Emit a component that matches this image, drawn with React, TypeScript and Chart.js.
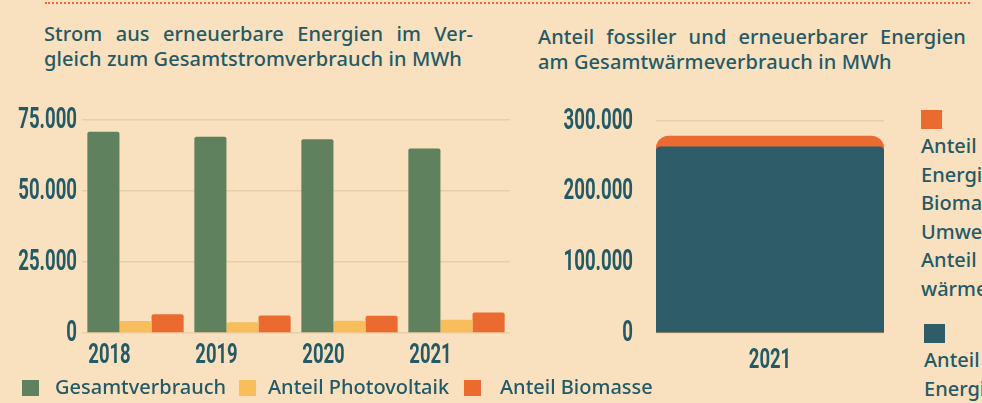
import React, { useEffect, useRef } from "react";
import { Chart, registerables } from "chart.js";

Chart.register(...registerables);

// ---- data ----
const years = ["2018", "2019", "2020", "2021"];
const gesamtverbrauch = [70900, 69100, 68200, 65000];
const photovoltaik = [4200, 3800, 4300, 4700];
const biomasse = [6600, 6200, 6100, 7200];
const stromTicks = [0, 25000, 50000, 75000];

const waermeYears = ["2021"];
const fossil = [263600];
const erneuerbar = [15200];
const waermeTicks = [0, 100000, 200000, 300000];

const stromLegend = ["Gesamtverbrauch", "Anteil Photovoltaik", "Anteil Biomasse"];
const waermeLegendErneuerbar = [
  "Anteil erneuerbarer",
  "Energien wie",
  "Biomasse und",
  "Umweltwärme am",
  "Anteil Gesamt-",
  "wärmeverbrauch",
];
const waermeLegendFossil = ["Anteil fossiler", "Energien am Gesamt-"];

const titleStrom = ["Strom aus erneuerbare Energien im Ver-", "gleich zum Gesamtstromverbrauch in MWh"];
const titleWaerme = ["Anteil fossiler und erneuerbarer Energien", "am Gesamtwärmeverbrauch in MWh"];

// ---- styles ----
const BG = "#F9E1BF";
const GREEN = "#5F815E";
const YELLOW = "#F8BE5B";
const ORANGE = "#EB6A2F";
const TEAL = "#2E5C68";
const TEXT = "#245A66";
const GRID = "rgba(196,150,100,0.28)";
const SANS = "'Noto Sans', 'Open Sans', sans-serif";
const NUM = "Roboto, 'DejaVu Sans', sans-serif";

const fmt = (v: number) => String(v).replace(/\B(?=(\d{3})+(?!\d))/g, ".");

// draw the scale's own tick labels horizontally condensed (the original uses a condensed display face)
const condense = (s: any, factor: number) => {
  if (s.__condensed) return;
  s.__condensed = true;
  const orig = s.drawLabels.bind(s);
  s.drawLabels = (area: any) => {
    const ctx = s.ctx;
    const fill = ctx.fillText;
    ctx.fillText = function (t: string, x: number, y: number) {
      ctx.save();
      ctx.translate(x, y);
      ctx.scale(factor, 1);
      fill.call(ctx, t, 0, 0);
      ctx.restore();
    };
    try {
      orig(area);
    } finally {
      delete ctx.fillText;
    }
  };
};

const yFont = { family: NUM, size: 30, weight: "bold" };
const xFont = { family: NUM, size: 28, weight: "bold" };

function StromChart() {
  const ref = useRef<HTMLCanvasElement | null>(null);
  useEffect(() => {
    if (!ref.current) return;
    const chart = new Chart(ref.current, {
      type: "bar",
      data: {
        labels: years,
        datasets: [
          { label: stromLegend[0], data: gesamtverbrauch, backgroundColor: GREEN, borderRadius: { topLeft: 2, topRight: 2 }, borderSkipped: "bottom" },
          { label: stromLegend[1], data: photovoltaik, backgroundColor: YELLOW, borderRadius: { topLeft: 2, topRight: 2 }, borderSkipped: "bottom" },
          { label: stromLegend[2], data: biomasse, backgroundColor: ORANGE, borderRadius: { topLeft: 2, topRight: 2 }, borderSkipped: "bottom" },
        ],
      },
      options: {
        animation: false,
        responsive: false,
        maintainAspectRatio: false,
        layout: { padding: { top: 120, bottom: 5, right: 10, left: 0 } },
        plugins: { legend: { display: false }, tooltip: { enabled: false }, title: { display: false } },
        datasets: { bar: { categoryPercentage: 0.9, barPercentage: 1 } },
        scales: {
          x: {
            grid: { display: false },
            border: { display: false },
            ticks: { color: TEXT, font: xFont, padding: -2, labelOffset: -26, maxRotation: 0 },
            afterFit: (s: any) => { s.height = 65; condense(s, 0.66); },
          },
          y: {
            min: 0,
            max: 75000,
            afterBuildTicks: (s: any) => { s.ticks = stromTicks.map((v) => ({ value: v })); },
            grid: { color: GRID, drawTicks: false, lineWidth: 1.5 },
            border: { display: false },
            ticks: { color: TEXT, font: yFont, padding: 5, callback: (v: any) => fmt(Number(v)) },
            afterFit: (s: any) => { s.width = 82; condense(s, 0.62); },
          },
        },
      },
    } as any);
    return () => chart.destroy();
  }, []);
  return <canvas ref={ref} width={520} height={403} style={{ position: "absolute", left: 0, top: 0, width: 520, height: 403 }} />;
}

function WaermeChart() {
  const ref = useRef<HTMLCanvasElement | null>(null);
  useEffect(() => {
    if (!ref.current) return;
    const total = fossil.map((v, i) => v + erneuerbar[i]);
    const chart = new Chart(ref.current, {
      type: "bar",
      data: {
        labels: waermeYears,
        datasets: [
          { label: "Anteil fossiler Energien", data: fossil, backgroundColor: TEAL, borderRadius: { topLeft: 5, topRight: 5 }, borderSkipped: "bottom" },
          { label: "Anteil erneuerbarer Energien", data: total, backgroundColor: ORANGE, borderRadius: { topLeft: 13, topRight: 13 }, borderSkipped: "bottom" },
        ],
      },
      options: {
        animation: false,
        responsive: false,
        maintainAspectRatio: false,
        layout: { padding: { top: 121, bottom: 5, right: 16, left: 0 } },
        plugins: { legend: { display: false }, tooltip: { enabled: false }, title: { display: false } },
        datasets: { bar: { categoryPercentage: 1, barPercentage: 1, grouped: false } },
        scales: {
          x: {
            grid: { display: false },
            border: { display: false },
            ticks: { color: TEXT, font: xFont, padding: 3, maxRotation: 0 },
            afterFit: (s: any) => { s.height = 65; condense(s, 0.66); },
          },
          y: {
            min: 0,
            max: 300000,
            afterBuildTicks: (s: any) => { s.ticks = waermeTicks.map((v) => ({ value: v })); },
            grid: { color: GRID, drawTicks: false, lineWidth: 1.5 },
            border: { display: false },
            ticks: { color: TEXT, font: yFont, padding: 23, callback: (v: any) => fmt(Number(v)) },
            afterFit: (s: any) => { s.width = 126; condense(s, 0.62); },
          },
        },
      },
    } as any);
    return () => chart.destroy();
  }, []);
  return <canvas ref={ref} width={370} height={403} style={{ position: "absolute", left: 530, top: 0, width: 370, height: 403 }} />;
}

const titleStyle: React.CSSProperties = {
  position: "absolute",
  fontFamily: SANS,
  fontSize: 20,
  fontWeight: 500,
  letterSpacing: "0.1px",
  color: TEXT,
  lineHeight: "25px",
  margin: 0,
};

const legendText: React.CSSProperties = {
  position: "absolute",
  fontFamily: SANS,
  fontSize: 20,
  fontWeight: 500,
  color: TEXT,
  whiteSpace: "nowrap",
};

export default function App() {
  const stromColors = [GREEN, YELLOW, ORANGE];
  const boxX = [22, 239, 464];
  const textX = [55, 268, 500];
  return (
    <div style={{ position: "fixed", left: 0, top: 0, width: 982, height: 403, overflow: "hidden", background: BG }}>
      <div style={{ position: "absolute", left: 45, top: 2, width: 925, borderTop: `2px dotted ${ORANGE}` }} />
      <div style={{ ...titleStyle, left: 44, top: 21, width: 429 }}>
        <div style={{ textAlign: "justify", textAlignLast: "justify" }}>{titleStrom[0]}</div>
        <div style={{ whiteSpace: "nowrap" }}>{titleStrom[1]}</div>
      </div>
      <div style={{ ...titleStyle, left: 538, top: 24, width: 428 }}>
        <div style={{ textAlign: "justify", textAlignLast: "justify" }}>{titleWaerme[0]}</div>
        <div style={{ whiteSpace: "nowrap" }}>{titleWaerme[1]}</div>
      </div>
      <StromChart />
      <WaermeChart />
      {stromLegend.map((t, i) => (
        <React.Fragment key={t}>
          <div style={{ position: "absolute", left: boxX[i], top: 380, width: 17, height: 16, background: stromColors[i] }} />
          <div style={{ ...legendText, left: textX[i], top: 374, lineHeight: "25px" }}>{t}</div>
        </React.Fragment>
      ))}
      <div style={{ position: "absolute", left: 921, top: 110, width: 21, height: 19, background: ORANGE }} />
      <div style={{ ...legendText, left: 921, top: 132, lineHeight: "28.5px" }}>
        {waermeLegendErneuerbar.map((l) => <div key={l}>{l}</div>)}
      </div>
      <div style={{ position: "absolute", left: 924, top: 324, width: 21, height: 19, background: TEAL }} />
      <div style={{ ...legendText, left: 924, top: 346, lineHeight: "28.5px" }}>
        {waermeLegendFossil.map((l) => <div key={l}>{l}</div>)}
      </div>
    </div>
  );
}
